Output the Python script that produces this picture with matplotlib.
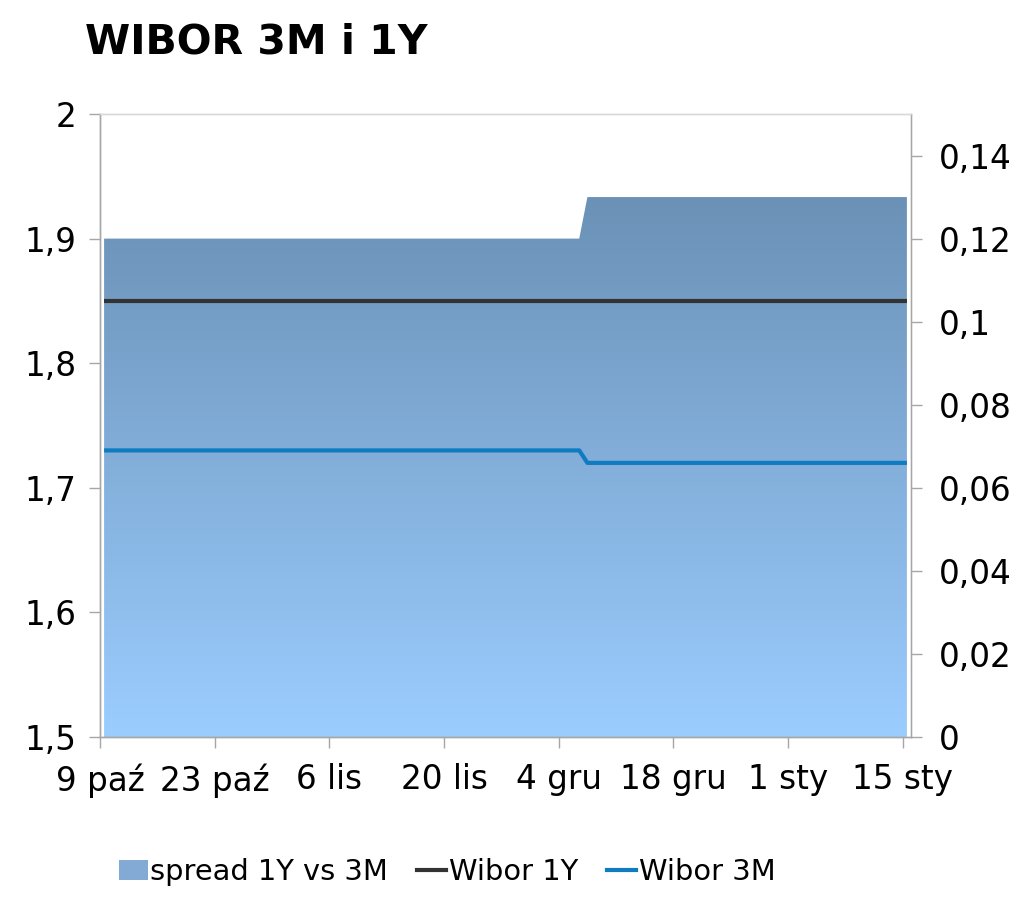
import datetime as dt
import numpy as np
import matplotlib
matplotlib.use("Agg")
import matplotlib.pyplot as plt
import matplotlib.dates as mdates
from matplotlib.colors import LinearSegmentedColormap
from matplotlib.patches import Patch
from matplotlib.lines import Line2D

# dane (punkty zmiany)
daty = ["2015-10-09", "2015-12-06", "2015-12-07", "2016-01-15"]
wibor_1y = [1.85, 1.85, 1.85, 1.85]
wibor_3m = [1.73, 1.73, 1.72, 1.72]
spread = [0.12, 0.12, 0.13, 0.13]

ticki_daty = ["2015-10-09", "2015-10-23", "2015-11-06", "2015-11-20",
              "2015-12-04", "2015-12-18", "2016-01-01", "2016-01-15"]
ticki_opisy = ["9 paź", "23 paź", "6 lis", "20 lis", "4 gru", "18 gru", "1 sty", "15 sty"]

kolor_1y = "#333333"
kolor_3m = "#0f7bc0"
szary = "#a6a6a6"

plt.rcParams["font.family"] = ["DejaVu Sans"]

# punkty w środku dnia, jak na osi dat w Excelu
x = mdates.date2num([dt.datetime.fromisoformat(d) for d in daty]) + 0.5
xt = mdates.date2num([dt.datetime.fromisoformat(d) for d in ticki_daty])

fig = plt.figure(figsize=(10.24, 8.99), dpi=100)
ax = fig.add_axes([100 / 1024, 162 / 899, 811 / 1024, 623 / 899])
ax2 = ax.twinx()

# obszar spreadu z gradientem (oś prawa)
cmap = LinearSegmentedColormap.from_list("spr", ["#9bcdff", "#6b91b6"])
poly = ax2.fill_between(x, 0, spread, color="none", lw=0)
grad = np.linspace(0, 1, 256).reshape(-1, 1)
im = ax2.imshow(grad, cmap=cmap, aspect="auto", origin="lower",
                extent=[x[0], x[-1], 0, max(spread)], zorder=1)
im.set_clip_path(poly.get_paths()[0], transform=ax2.transData)

# linie (oś lewa)
ax.plot(x, wibor_1y, color=kolor_1y, lw=3, solid_capstyle="butt", zorder=3)
ax.plot(x, wibor_3m, color=kolor_3m, lw=3, solid_capstyle="butt", zorder=3)

ax.set_zorder(ax2.get_zorder() + 1)
ax.patch.set_visible(False)

ax.set_xlim(xt[0], xt[-1] + 1)
ax.set_ylim(1.5, 2.0)
ax2.set_ylim(0, 0.15)

lewe = [1.5, 1.6, 1.7, 1.8, 1.9, 2.0]
ax.set_yticks(lewe)
ax.set_yticklabels([("%g" % v).replace(".", ",") for v in lewe])
prawe = [0, 0.02, 0.04, 0.06, 0.08, 0.1, 0.12, 0.14]
ax2.set_yticks(prawe)
ax2.set_yticklabels([("%g" % v).replace(".", ",") for v in prawe])
ax.set_xticks(xt)
ax.set_xticklabels(ticki_opisy)

for a in (ax, ax2):
    for s in a.spines.values():
        s.set_color(szary)
        s.set_linewidth(1)
    a.tick_params(colors=szary, labelcolor="black", labelsize=23.5, length=8, width=1)
ax.tick_params(axis="y", pad=9)
ax2.tick_params(axis="y", pad=12)
ax.tick_params(axis="x", pad=11)
ax.spines["top"].set_color("#d9d9d9")
ax2.spines["top"].set_color("#d9d9d9")
ax2.spines["right"].set_color("#d0d0d0")

fig.text(85 / 1024, 1 - 43 / 899, "WIBOR 3M i 1Y", fontsize=29.5, fontweight="bold",
         va="center", ha="left")

uchwyty = [Patch(facecolor="#82aad4", edgecolor="none"),
           Line2D([], [], color=kolor_1y, lw=3),
           Line2D([], [], color=kolor_3m, lw=3)]
fig.legend(uchwyty, ["spread 1Y vs 3M", "Wibor 1Y", "Wibor 3M"], loc="center",
           bbox_to_anchor=(447 / 1024, 1 - 872 / 899), ncol=3, frameon=False,
           fontsize=20.8, handlelength=1.0, handletextpad=0.1, columnspacing=1.0)

fig.savefig("out.png", dpi=100)
